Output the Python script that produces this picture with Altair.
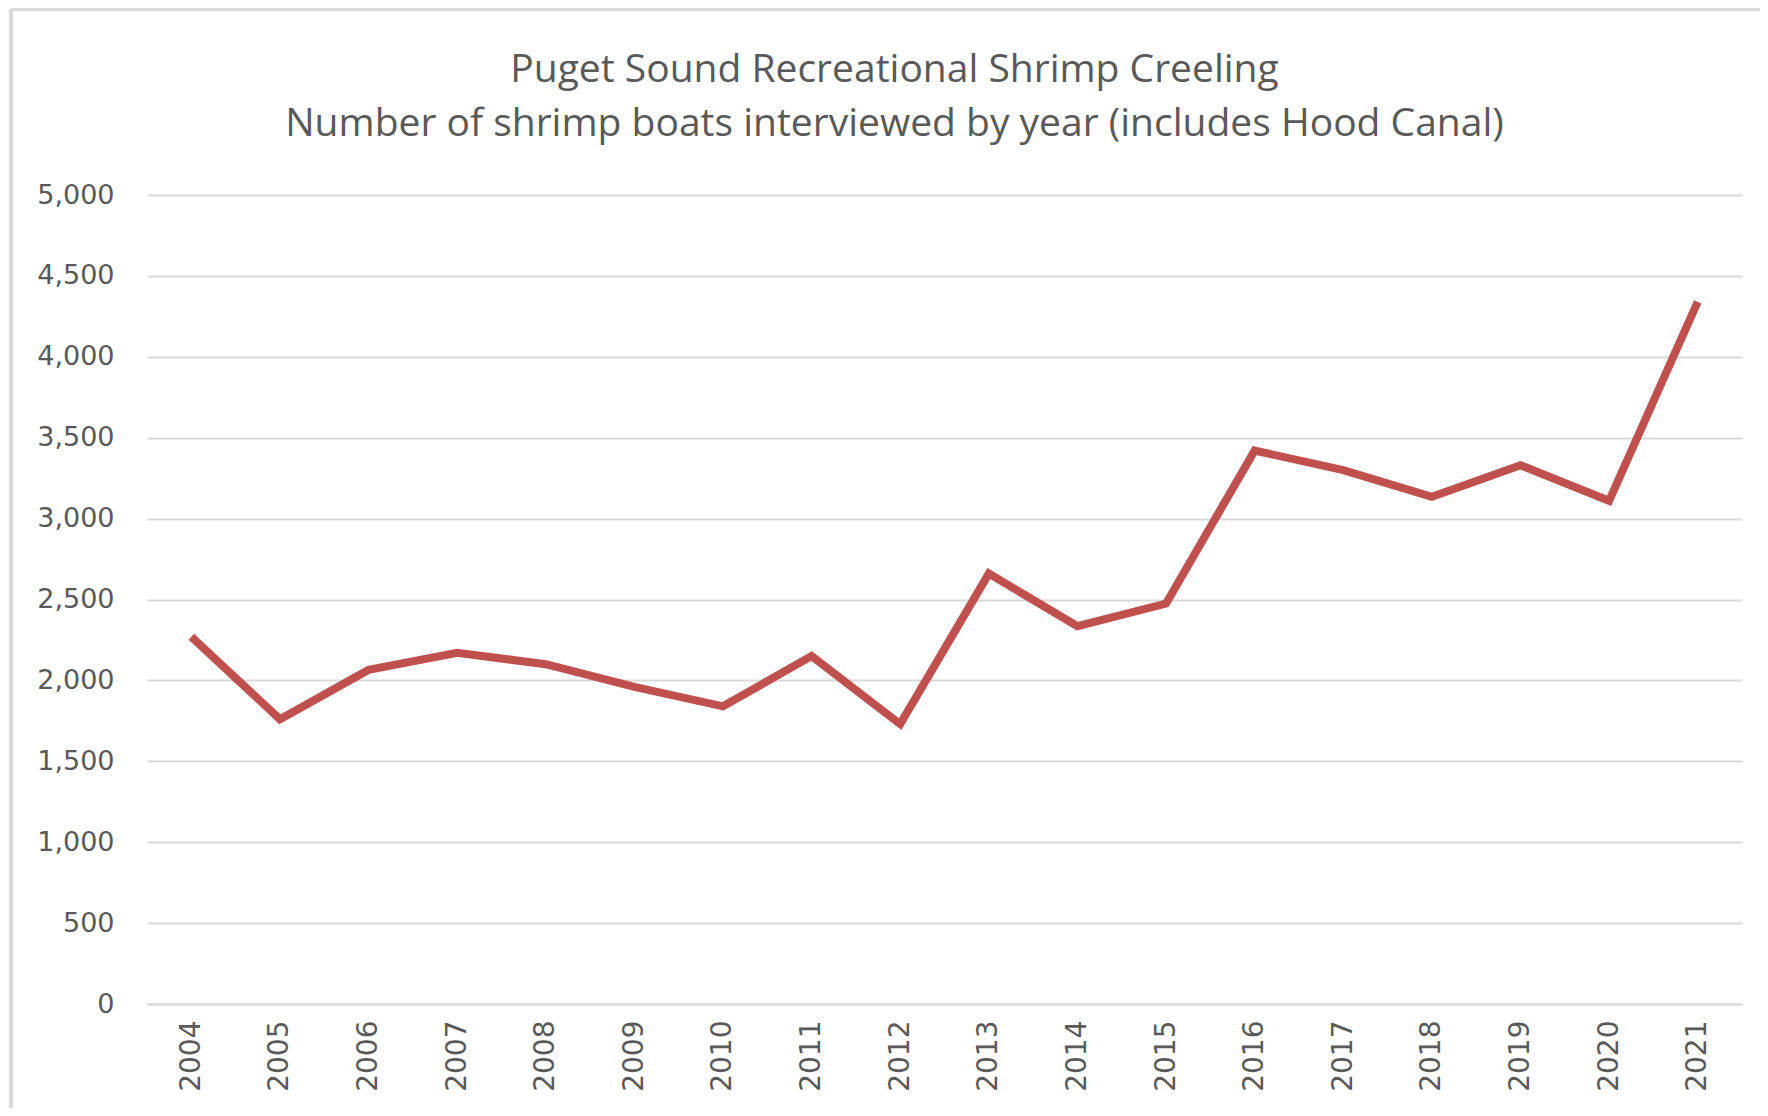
import altair as alt
import pandas as pd

years = ["2004", "2005", "2006", "2007", "2008", "2009", "2010", "2011", "2012",
         "2013", "2014", "2015", "2016", "2017", "2018", "2019", "2020", "2021"]
boats = [2270, 1760, 2065, 2170, 2100, 1960, 1840, 2150, 1730,
         2660, 2335, 2475, 3420, 3300, 3135, 3330, 3110, 4340]

df = pd.DataFrame({"year": years, "boats": boats})

W, H = 1595, 809
GRAY = "#595959"

line = alt.Chart(df).mark_line(color="#C0504D", strokeWidth=8, strokeJoin="miter").encode(
    x=alt.X("year:O", sort=years, title=None,
            scale=alt.Scale(padding=0.5),
            axis=alt.Axis(labelAngle=-90, labelFont="DejaVu Sans", labelFontSize=28,
                          labelColor=GRAY, labelPadding=16, ticks=False,
                          domainColor="#D9D9D9", domainWidth=2, grid=False)),
    y=alt.Y("boats:Q", title=None,
            scale=alt.Scale(domain=[0, 5000], nice=False),
            axis=alt.Axis(values=list(range(0, 5001, 500)), format=",.0f", labelFont="DejaVu Sans",
                          labelFontSize=27, labelColor=GRAY, labelPadding=33, ticks=False,
                          domain=False, gridColor="#D9D9D9", gridWidth=2)),
)

frame_top = alt.Chart(df).mark_rule(color="#D9D9D9", strokeWidth=3).encode(
    x=alt.value(-136), x2=alt.value(W + 40), y=alt.value(-186))
frame_left = alt.Chart(df).mark_rule(color="#D9D9D9", strokeWidth=3).encode(
    x=alt.value(-136), y=alt.value(-186), y2=alt.value(H + 120))

chart = alt.layer(frame_top, frame_left, line).properties(
    width=W, height=H,
    title=alt.TitleParams(
        text=["Puget Sound Recreational Shrimp Creeling",
              "Number of shrimp boats interviewed by year (includes Hood Canal)"],
        font="Open Sans", fontSize=39, fontWeight="normal", color=GRAY,
        lineHeight=54, anchor="middle", frame="group", dx=-50, offset=-136),
    autosize=alt.AutoSizeParams(type="none"),
    padding={"left": 139, "top": 187, "right": 18, "bottom": 104},
).configure_view(stroke=None)

chart.save("out.html", embed_options={"renderer": "svg", "actions": False})
